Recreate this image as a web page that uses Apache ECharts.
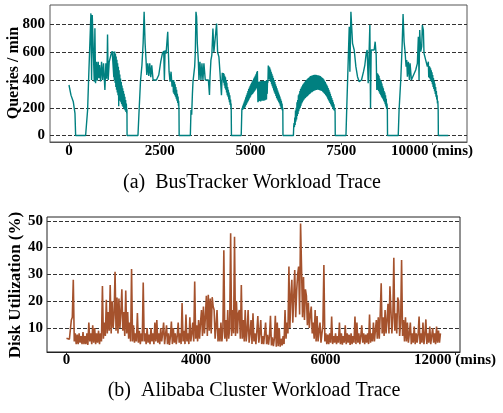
<!DOCTYPE html>
<html><head><meta charset="utf-8">
<script src="https://cdn.jsdelivr.net/npm/echarts@6/dist/echarts.min.js"></script>
<style>html,body{margin:0;padding:0;background:#fff}#c{width:503px;height:413px}</style>
</head><body><div id="c"></div><script>
// ---------- (a) BusTracker: [minute, queries/min] ----------
const busCycle1 = [[0,364],[55,291],[119,243],[165,160],[183,0],[458,0],[513,184],[540,400],[586,412],[604,880],[623,400],[641,868],[668,880],[696,388],[714,772],[732,376],[760,532],[778,395],[806,532],[824,412],[842,508],[870,390],[897,532],[925,400],[952,520],[989,328],[1016,520],[1035,410],[1050,500],[1062,728],[1080,400],[1108,530],[1135,560],[1163,590],[1190,608],[1228,600],[1235,420],[1240,605],[1250,400],[1260,605],[1270,380],[1280,590],[1290,350],[1300,570],[1310,330],[1320,545],[1330,310],[1340,520],[1350,290],[1360,495],[1370,210],[1380,470],[1390,260],[1400,440],[1410,250],[1420,410],[1430,240],[1440,385],[1450,228],[1460,360],[1470,215],[1480,340],[1490,205],[1500,320],[1510,195],[1520,300],[1530,188],[1540,280],[1550,180],[1560,255],[1570,170],[1580,230],[1590,160],[1597,190],[1600,0]];
const busCycle2 = [[1900,0],[1932,184],[1969,388],[2010,508],[2042,663],[2070,891],[2097,663],[2125,532],[2143,436],[2170,520],[2198,430],[2225,520],[2253,420],[2280,505],[2317,400],[2360,395],[2408,400],[2473,436],[2528,532],[2574,592],[2610,608],[2628,400],[2647,615],[2674,590],[2720,747],[2738,600],[2757,460],[2784,388],[2812,460],[2839,352],[2866,400],[2875,310],[2885,400],[2895,300],[2905,385],[2915,290],[2925,370],[2935,280],[2945,350],[2955,265],[2965,330],[2975,250],[2985,300],[2995,235],[3005,280],[3015,215],[3022,250],[3030,184],[3035,0]];
const busCycle3 = [[3343,0],[3361,184],[3380,150],[3400,300],[3416,388],[3462,496],[3480,600],[3498,891],[3516,855],[3535,663],[3562,544],[3580,400],[3608,532],[3635,400],[3663,520],[3690,400],[3717,520],[3754,400],[3800,400],[3840,400],[3870,292],[3885,420],[3910,544],[3935,580],[3965,771],[3992,600],[4029,603],[4066,807],[4094,600],[4130,567],[4158,460],[4200,290],[4222,452],[4240,400],[4250,450],[4260,380],[4270,445],[4280,360],[4290,430],[4300,340],[4310,420],[4320,330],[4330,400],[4340,310],[4350,380],[4360,290],[4370,350],[4380,280],[4390,330],[4400,260],[4410,310],[4420,240],[4430,290],[4440,220],[4450,260],[4460,200],[4465,230],[4469,184],[4475,0]];
const busCycle4 = [[4744,0],[4762,184],[4770,200],[4780,185],[4790,215],[4800,190],[4810,230],[4820,195],[4830,245],[4840,200],[4850,260],[4860,210],[4870,275],[4880,220],[4890,290],[4900,230],[4910,305],[4920,240],[4930,320],[4940,250],[4950,335],[4960,260],[4970,345],[4980,270],[4990,358],[5000,280],[5010,370],[5020,290],[5030,380],[5040,295],[5050,390],[5060,300],[5070,400],[5080,308],[5090,410],[5100,315],[5110,420],[5120,322],[5130,430],[5140,330],[5150,442],[5160,338],[5170,455],[5180,345],[5190,465],[5195,470],[5205,240],[5210,385],[5220,245],[5230,388],[5240,250],[5250,390],[5260,248],[5270,390],[5280,245],[5290,392],[5300,250],[5310,390],[5320,252],[5330,394],[5340,250],[5350,395],[5360,250],[5370,392],[5380,252],[5390,390],[5400,255],[5410,393],[5420,258],[5430,395],[5440,260],[5450,398],[5460,300],[5470,400],[5480,380],[5490,505],[5500,410],[5510,498],[5520,405],[5530,490],[5540,395],[5550,475],[5560,385],[5570,460],[5580,370],[5590,445],[5600,355],[5610,430],[5620,340],[5630,415],[5640,325],[5650,400],[5660,310],[5670,385],[5680,300],[5690,370],[5700,285],[5710,355],[5720,270],[5730,340],[5740,260],[5750,325],[5760,250],[5770,310],[5780,240],[5790,295],[5800,230],[5810,280],[5820,215],[5830,265],[5840,200],[5850,250],[5860,190],[5870,230],[5880,180],[5890,200],[5895,0]];
const busCycle5 = [[6182,0],[6190,60],[6200,90],[6210,60],[6220,130],[6230,75],[6240,180],[6250,100],[6260,200],[6270,115],[6280,240],[6290,140],[6300,255],[6310,155],[6320,290],[6330,175],[6340,300],[6350,190],[6360,320],[6370,200],[6380,335],[6390,215],[6400,345],[6410,230],[6420,355],[6430,240],[6440,365],[6450,250],[6460,372],[6470,258],[6480,380],[6490,265],[6500,388],[6510,270],[6520,395],[6530,275],[6540,400],[6550,280],[6560,405],[6570,285],[6580,410],[6590,290],[6600,415],[6610,295],[6620,420],[6630,300],[6640,425],[6650,305],[6660,428],[6670,310],[6680,430],[6690,312],[6700,433],[6710,316],[6720,435],[6730,320],[6740,436],[6750,323],[6760,437],[6770,325],[6780,437],[6790,327],[6800,437],[6810,328],[6820,436],[6830,329],[6840,435],[6850,330],[6860,434],[6870,329],[6880,432],[6890,328],[6900,430],[6910,326],[6920,428],[6930,325],[6940,424],[6950,322],[6960,420],[6970,320],[6980,415],[6990,315],[7000,410],[7010,310],[7020,403],[7030,305],[7040,395],[7050,300],[7060,385],[7070,292],[7080,375],[7090,285],[7100,365],[7110,275],[7120,355],[7130,265],[7140,342],[7150,255],[7160,330],[7170,245],[7180,315],[7190,235],[7200,300],[7210,225],[7220,285],[7230,215],[7240,270],[7250,205],[7260,255],[7270,195],[7280,240],[7290,185],[7300,225],[7310,178],[7320,200],[7330,170],[7335,0]];
const busCycle6 = [[7630,0],[7650,184],[7674,389],[7720,784],[7738,460],[7766,892],[7811,664],[7857,616],[7903,496],[7948,424],[7994,388],[8058,400],[8113,460],[8150,508],[8187,592],[8214,616],[8242,376],[8269,616],[8288,796],[8306,196],[8324,616],[8370,604],[8407,616],[8434,676],[8462,580],[8480,328],[8498,448],[8510,330],[8520,440],[8530,320],[8540,430],[8550,310],[8560,410],[8570,300],[8580,400],[8590,290],[8600,390],[8610,280],[8620,375],[8630,270],[8640,355],[8650,262],[8660,340],[8670,250],[8680,320],[8690,240],[8700,310],[8710,225],[8720,290],[8730,210],[8740,265],[8750,195],[8760,230],[8770,184],[8775,0]];
const busCycle7 = [[9070,0],[9093,184],[9139,400],[9176,640],[9203,875],[9231,676],[9258,604],[9286,496],[9304,544],[9322,424],[9350,532],[9377,400],[9396,520],[9432,400],[9487,400],[9551,472],[9597,520],[9624,712],[9643,400],[9661,760],[9689,604],[9716,640],[9734,796],[9762,760],[9780,592],[9826,592],[9872,496],[9899,532],[9910,420],[9920,500],[9930,415],[9940,495],[9950,405],[9960,485],[9970,395],[9980,470],[9990,385],[10000,455],[10010,370],[10020,435],[10030,350],[10040,415],[10050,335],[10060,395],[10070,320],[10080,375],[10090,300],[10100,350],[10110,280],[10120,320],[10130,260],[10140,290],[10150,230],[10160,250],[10170,184],[10175,0],[10449,0]];
const busXTickValues = [0, 2500, 5000, 7500, 10000];
const busXTickLabels = ['0', '2500', '5000', '7500', '10000 (mins)'];
const busYTickValues = [0, 200, 400, 600, 800];

// ---------- (b) Alibaba: disk utilization (%), one value every 30 minutes ----------
const aliStepMins = 30;
const aliUtil = [
 6.2,6.0,5.9,5.8,5.6,13,14,28,5,8,4,7.5,4,8,4.5,7,4,8.5,4,7,
 4,8,3.7,12,5,8,4,11,4.5,10,4,8,4.5,9,4,8,5,25.7,6,12,
 7,20.5,8,16,9,26,8,20,10,15,31,9,21.4,8,21,10,16,24.4,9,16,
 7,24,8,16,6,12,5,32,5,11,4.5,8,5,15.6,4.5,9,4,8,5,27,
 5,8,4,10,4.5,7.5,4,10,5,8,4,12,5,13,4.5,8,4,10,5,8,
 12,4,7.5,11,4,8,3.7,7,12.4,4,10,4.5,8,4,7,12,4.5,8,4,19.3,
 5,9,4,15,5,8,4,14,5,8,12,5,27.3,6,11,5,13,6,12,16.7,
 7,18,8,14,22,7,22.4,9,21,8,21.5,18,16.7,6,11,16.7,5,10,5,12,
 5,9,39,6,13,5,16.7,6,10,45.3,7,16.7,8,44,7,20,8,15.5,16.7,6,
 26,6,13,5,16.7,5,9,16.7,4.5,8,13,4,15.5,5,8,4,9,14.5,4.5,8,
 13,4,7,4,8,12,4,7.5,3.8,7,14.6,3.5,6.5,3.2,6,14.6,3,12,3.2,10,
 3,6,3.5,7,4,16.7,6,12,8,32.9,10,22,28,12,22,31.6,14,24,30,32.9,
 15,49,32.2,14,29,13,24.4,22,11,19.5,10,15,18,8,12,6,16.7,5,14.5,5,
 9,12,4.5,8,11,33.5,5,8,4,7.5,4,8,4.5,14.3,4,7,4.5,8,4,7,
 4.5,12,4,8,3.8,7,4.5,11,4,8,4.5,7.5,3.7,8,4,7,4.5,14.3,4,12,
 4.5,8,4,7,11,4.5,8,4,7.5,4.5,8,4,15,4.5,8,5,12,5,9,13,
 6,14,6,15,26.7,8,14,7,16.7,8,13,19,8,25.6,16.7,8,14,36.2,9,15.5,
 8,21.4,20,7,12,35.4,7,13,5,14,5,12,4.5,8,12,4,8,4.5,10.5,4,
 8,4.5,7.5,14.3,4,8,4.5,12,4,7.5,13.2,4,8,4.5,10.5,4,7,10,4.5,8,
 4,10.5,4.5,9,4.5,8
];
const aliXTickValues = [0, 4000, 8000, 12000];
const aliXTickLabels = ['0', '4000', '6000', '12000 (mins)'];
const aliYTickValues = [10, 20, 30, 40, 50];

// ---------- build ----------
const busData = [].concat(busCycle1, busCycle2, busCycle3, busCycle4, busCycle5, busCycle6, busCycle7);
const aliData = aliUtil.map((v, i) => [i * aliStepMins, v]);

const serif = '"Liberation Serif", "Times New Roman", Times, serif';
const tickFont = {fontFamily: serif, fontWeight: 'bold', fontSize: 15, color: '#000'};
const dashed = {type: [4, 2], color: '#333', width: 1};

const chart = echarts.init(document.getElementById('c'), null, {renderer: 'canvas'});
chart.setOption({
  animation: false,
  backgroundColor: '#fff',
  grid: [
    {left: 50, top: 5, width: 417, height: 137, show: true, borderColor: '#555', borderWidth: 1, containLabel: false},
    {left: 47, top: 217, width: 413, height: 135, show: true, borderColor: '#222', borderWidth: 1, containLabel: false}
  ],
  xAxis: [
    {type: 'value', gridIndex: 0, min: -523, max: 10964,
     axisLine: {show: true, onZero: false, lineStyle: {color: '#555'}},
     axisTick: {show: true, customValues: busXTickValues, length: 3, lineStyle: {color: '#555'}},
     axisLabel: Object.assign({customValues: busXTickValues, margin: 2,
       formatter: v => busXTickLabels[busXTickValues.indexOf(v)]}, tickFont),
     splitLine: {show: false}},
    {type: 'value', gridIndex: 1, min: -602, max: 12154,
     axisLine: {show: true, onZero: false, lineStyle: {color: '#222'}},
     axisTick: {show: true, customValues: aliXTickValues, length: 3, lineStyle: {color: '#222'}},
     axisLabel: Object.assign({customValues: aliXTickValues, margin: 1,
       formatter: v => aliXTickLabels[aliXTickValues.indexOf(v)]}, tickFont),
     splitLine: {show: false}}
  ],
  yAxis: [
    {type: 'value', gridIndex: 0, min: -46.8, max: 940.5,
     axisLine: {show: false},
     axisTick: {show: false, customValues: busYTickValues},
     axisLabel: Object.assign({customValues: busYTickValues, margin: 5}, tickFont),
     splitLine: {show: true, lineStyle: dashed}},
    {type: 'value', gridIndex: 1, min: 1.05, max: 51.4,
     axisLine: {show: false},
     axisTick: {show: false, customValues: aliYTickValues},
     axisLabel: Object.assign({customValues: aliYTickValues, margin: 4}, tickFont),
     splitLine: {show: true, lineStyle: dashed}}
  ],
  series: [
    {type: 'line', name: 'BusTracker', xAxisIndex: 0, yAxisIndex: 0, data: busData,
     showSymbol: false, symbol: 'none', sampling: null, clip: true,
     lineStyle: {color: '#008080', width: 1.4}, z: 3},
    {type: 'line', name: 'Alibaba', xAxisIndex: 1, yAxisIndex: 1, data: aliData,
     showSymbol: false, symbol: 'none', sampling: null, clip: true,
     lineStyle: {color: '#a5522d', width: 1.6}, z: 3}
  ],
  graphic: [
    {type: 'text', x: 14, y: 73, rotation: Math.PI / 2,
     style: {text: 'Queries / min', font: 'bold 16px ' + serif, fill: '#000', textAlign: 'center', textVerticalAlign: 'middle'}},
    {type: 'text', x: 16, y: 285, rotation: Math.PI / 2,
     style: {text: 'Disk Utilization (%)', font: 'bold 17px ' + serif, fill: '#000', textAlign: 'center', textVerticalAlign: 'middle'}},
    {type: 'text', x: 252, y: 183,
     style: {text: '(a)  BusTracker Workload Trace', font: '20px ' + serif, fill: '#000', textAlign: 'center', textVerticalAlign: 'middle'}},
    {type: 'text', x: 254, y: 391,
     style: {text: '(b)  Alibaba Cluster Workload Trace', font: '20px ' + serif, fill: '#000', textAlign: 'center', textVerticalAlign: 'middle'}}
  ]
});
</script></body></html>
